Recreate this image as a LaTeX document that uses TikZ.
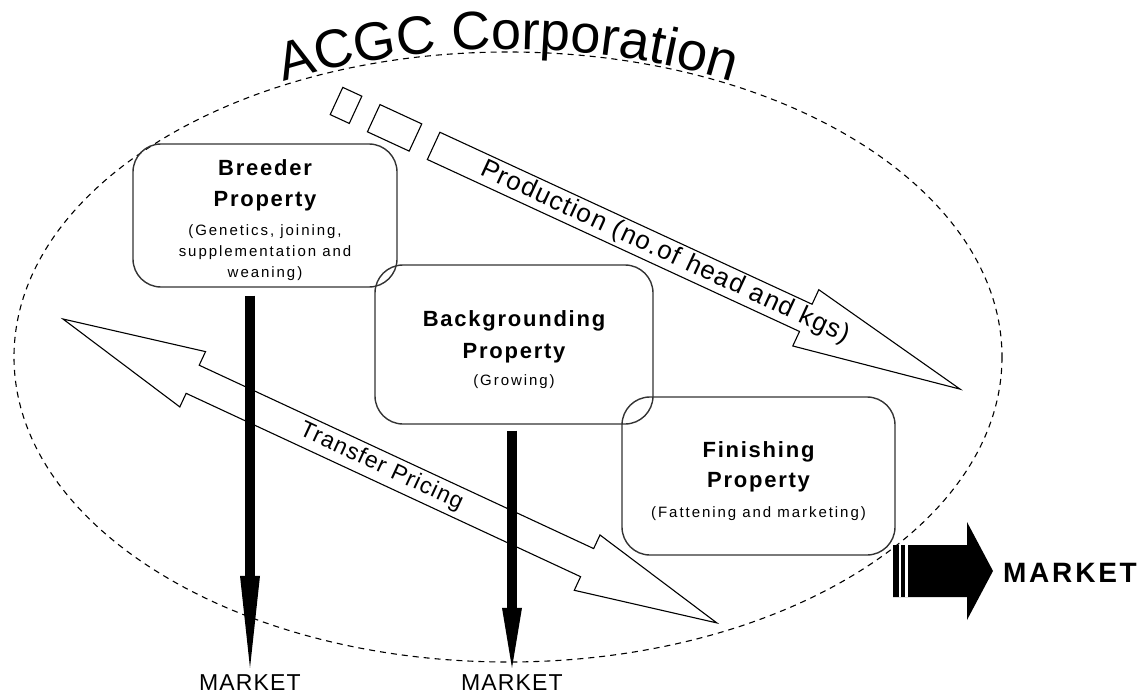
\documentclass[tikz,border=0pt]{standalone}
\usepackage{fontspec}
\setmainfont{Liberation Sans}
\newfontfamily\headfam[LetterSpace=8]{Liberation Sans}
\newfontfamily\notefam[LetterSpace=13]{Liberation Sans}
\newfontfamily\labelfam[LetterSpace=5]{Liberation Sans}
\newfontfamily\widefam[LetterSpace=10]{Liberation Sans}
\usetikzlibrary{
    arrows.meta,
    calc,
    positioning,
    decorations.text
}
\newcommand{\headfont}{\headfam\bfseries\fontsize{22}{22}\selectfont}
\newcommand{\notefont}{\notefam\fontsize{15}{21}\selectfont}
\newcommand{\toppad}{\rule{0pt}{26pt}}
\tikzset{
    propbox/.style={draw=black!80, line width=1.4pt, rounded corners=28pt, align=center, font=\notefont, inner sep=0pt},
    hollow/.style={draw=black, line width=1.1pt, line join=miter},
    downarr/.style={line width=10pt},
    mkt/.style={inner sep=7pt, font=\labelfam\fontsize{23}{23}\selectfont},
    arrowtext/.style={transform shape, inner sep=0pt, font=\labelfam\fontsize{#1}{#1}\selectfont}
}

\begin{document}
\begin{tikzpicture}[x=1pt, y=-1pt]
    \useasboundingbox (0,0) rectangle (1141,698);
    \draw[dash pattern=on 6pt off 5pt, line width=1.1pt] (508,357) ellipse [x radius=494, y radius=305];
    \path[decorate, decoration={text along path, text={|\fontsize{54}{54}\selectfont|ACGC Corporation}, text align=center, raise=3pt}]
        (508,357) ++(242:494 and 305) arc [start angle=242, end angle=298, x radius=494, y radius=305];

    \begin{scope}[shift={(336.5,101)}, rotate=-24.8]
        \draw[hollow] (0,-15) rectangle (21,15);
        \draw[hollow] (41,-15) rectangle (87,15);
        \draw[hollow] (107,-15) -- (517,-15) -- (517,-31) -- (687,0) -- (517,31) -- (517,15) -- (107,15) -- cycle;
        \node[arrowtext=26] (prod) at (362,0) {Production (no.of head and kgs)};
    \end{scope}

    \begin{scope}[shift={(63,319)}, rotate=-24.93]
        \draw[hollow] (0,0) -- (143,-30.5) -- (143,-15.5) -- (578,-15.5) -- (578,-30.5) -- (721,0)
            -- (578,30.5) -- (578,15.5) -- (143,15.5) -- (143,30.5) -- cycle;
        \node[arrowtext=23] (transfer) at (351,0) {Transfer Pricing};
    \end{scope}

    \node[propbox, minimum width=264pt, minimum height=143pt] (breeder) at (265,215.5)
        {\toppad{\headfont Breeder}\\[10pt]{\headfont Property}\\[8pt](Genetics, joining,\\supplementation and\\weaning)};
    \node[propbox, minimum width=278pt, minimum height=159pt] (backgr) at (514,344.5)
        {\toppad{\headfont Backgrounding}\\[11pt]{\headfont Property}\\[6pt](Growing)};
    \node[propbox, minimum width=273pt, minimum height=158pt] (finish) at (758.5,476)
        {\toppad{\headfont Finishing}\\[9pt]{\headfont Property}\\[9pt](Fattening and marketing)};

    \node[mkt] (mktbreed) at (250,683) {MARKET};
    \node[mkt] (mktback) at (512,683) {MARKET};
    \draw[downarr, -{Triangle[length=92pt, width=20pt, line width=0pt]}, shorten <=8pt] (breeder.south -| mktbreed.north) -- (mktbreed.north);
    \draw[downarr, -{Triangle[length=60pt, width=20pt, line width=0pt]}, shorten <=6pt] (backgr.south -| mktback.north) -- (mktback.north);

    \node[inner sep=0pt, font=\widefam\bfseries\fontsize{28}{28}\selectfont] (mktfinal) at (1070,573) {MARKET};
    \coordinate (bigtip) at (993,571);
    \fill (bigtip) -- ++(-26,-49) -- ++(0,23) -- ++(-74,0) -- ++(0,52) -- ++(74,0) -- ++(0,23) -- cycle;
    \draw[white, line width=1.7pt] ($(bigtip)+(-93,-26)$) -- ++(0,52);
    \draw[white, line width=3pt] ($(bigtip)+(-86.5,-26)$) -- ++(0,52);
\end{tikzpicture}
\end{document}
